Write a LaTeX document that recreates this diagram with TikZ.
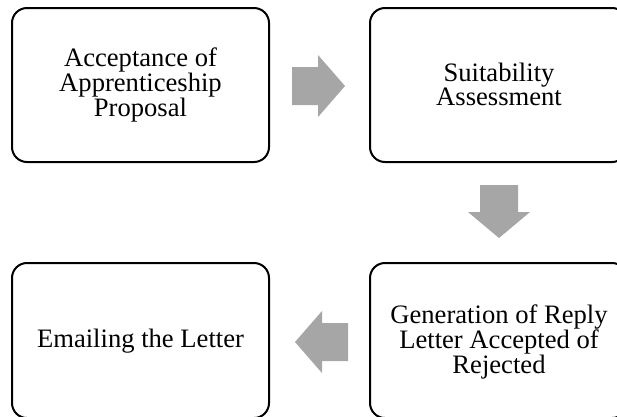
\documentclass[tikz,border=0pt]{standalone}
\usepackage{fontspec}
\setmainfont{Liberation Serif}
\definecolor{arrowgray}{RGB}{166,166,166}
\begin{document}
\begin{tikzpicture}[x=1pt,y=-1pt,
  stagebox/.style={draw=black,line width=2pt,rounded corners=15pt},
  stagetext/.style={align=center,inner sep=0pt,font=\fontsize{26.6}{24}\selectfont},
  blockarrow/.style={fill=arrowgray,draw=none}]
\useasboundingbox (0,0) rectangle (617,416);
\clip (0,0) rectangle (617,416);

% process stages
\draw[stagebox] (12,8) rectangle (269,162);
\draw[stagebox] (370,8) rectangle (627,162);
\draw[stagebox] (370,263) rectangle (627,418);
\draw[stagebox] (12,263) rectangle (269,418);

\node[stagetext] (accept) at (140.5,85) {Acceptance of\\Apprenticeship\\Proposal};
\node[stagetext] (assess) at (499,84) {Suitability\\Assessment};
\node[stagetext] (reply) at (499,342) {Generation of Reply\\Letter Accepted of\\Rejected};
\node[stagetext] (email) at (140.5,341) {Emailing the Letter};

% block arrows between stages
\fill[blockarrow] (292,67) -- (318,67) -- (318,55) -- (345,86) -- (318,117) -- (318,105) -- (292,105) -- cycle;
\fill[blockarrow] (480,185) -- (518,185) -- (518,212) -- (530,212) -- (499,238) -- (468,212) -- (480,212) -- cycle;
\fill[blockarrow] (348,323) -- (322,323) -- (322,311) -- (295,342) -- (322,373) -- (322,361) -- (348,361) -- cycle;
\end{tikzpicture}
\end{document}
